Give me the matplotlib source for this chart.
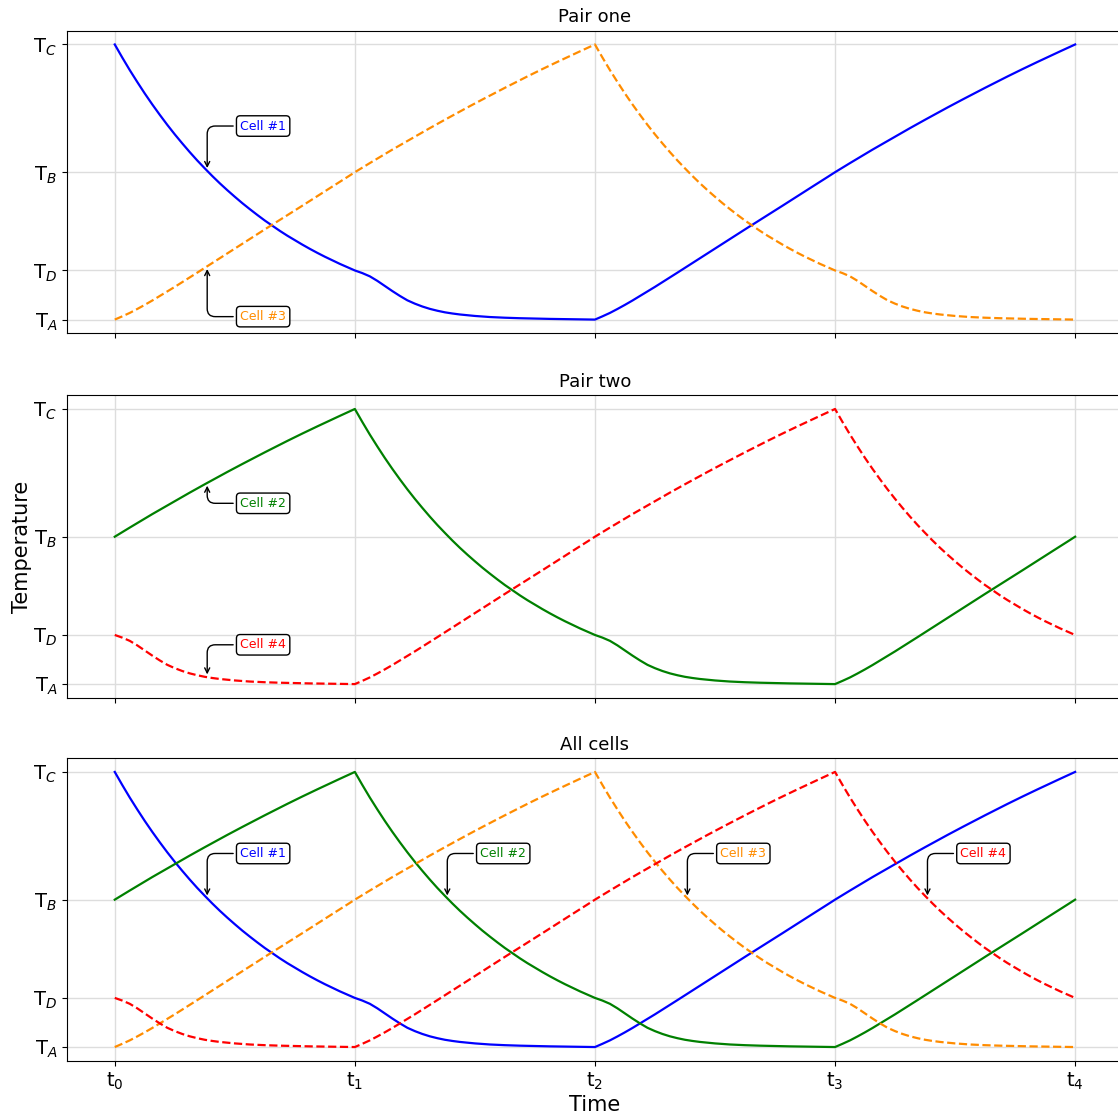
import numpy as np
import matplotlib.pyplot as plt

# reference temperatures
T_A, T_D, T_B, T_C = 20.0, 25.0, 35.0, 48.0
temp_ticks = [T_A, T_D, T_B, T_C]
temp_labels = ["T$_A$", "T$_D$", "T$_B$", "T$_C$"]
time_labels = ["t$_0$", "t$_1$", "t$_2$", "t$_3$", "t$_4$"]

# each stage of the cycle, sampled every 1/32 of a period
cool_c_to_d = [48.00, 46.67, 45.39, 44.18, 43.01, 41.90, 40.84, 39.82,
               38.85, 37.93, 37.04, 36.19, 35.39, 34.61, 33.87, 33.17,
               32.50, 31.85, 31.24, 30.65, 30.08, 29.55, 29.03, 28.54,
               28.08, 27.63, 27.20, 26.79, 26.40, 26.03, 25.67, 25.33, 25.00]
settle_d_to_a = [25.00, 24.73, 24.40, 23.94, 23.42, 22.90, 22.41, 21.96,
                 21.62, 21.33, 21.09, 20.90, 20.74, 20.62, 20.52, 20.44,
                 20.37, 20.31, 20.26, 20.22, 20.19, 20.16, 20.14, 20.12,
                 20.10, 20.09, 20.07, 20.06, 20.05, 20.04, 20.02, 20.01, 20.00]
heat_a_to_b = [20.00, 20.33, 20.68, 21.08, 21.50, 21.94, 22.40, 22.86,
               23.33, 23.81, 24.30, 24.78, 25.27, 25.76, 26.25, 26.73,
               27.22, 27.71, 28.20, 28.69, 29.18, 29.66, 30.15, 30.63,
               31.11, 31.59, 32.08, 32.56, 33.05, 33.54, 34.02, 34.51, 35.00]
heat_b_to_c = [35.00, 35.47, 35.93, 36.39, 36.84, 37.30, 37.74, 38.19,
               38.63, 39.06, 39.49, 39.92, 40.34, 40.76, 41.18, 41.59,
               42.00, 42.40, 42.80, 43.20, 43.59, 43.98, 44.37, 44.75,
               45.13, 45.50, 45.87, 46.23, 46.59, 46.95, 47.30, 47.65, 48.00]

stages = [cool_c_to_d, settle_d_to_a, heat_a_to_b, heat_b_to_c]

cells = ["Cell #1", "Cell #2", "Cell #3", "Cell #4"]
cell_first_stage = [0, 3, 2, 1]
cell_colors = ["blue", "green", "darkorange", "red"]
cell_styles = ["-", "-", "--", "--"]

SAMPLES = len(cool_c_to_d) - 1
time = np.linspace(0, 4, 4 * SAMPLES + 1)


def cell_profile(first):
    temps = [stages[first][0]]
    for k in range(4):
        temps += stages[(first + k) % 4][1:]
    return np.array(temps)


profiles = [cell_profile(s) for s in cell_first_stage]

fig = plt.figure(figsize=(11.18, 11.13), dpi=100)
left, width, height = 0.0597, 0.9449, 0.2719
bottoms = [0.7005, 0.3730, 0.0469]
axes = [fig.add_axes([left, b, width, height]) for b in bottoms]

panels = [
    ("Pair one", [0, 2]),
    ("Pair two", [1, 3]),
    ("All cells", [0, 1, 2, 3]),
]

# (cell index, tip time, label height) for each panel
notes = [
    [(0, 0.385, 39.7), (2, 0.385, 20.3)],
    [(1, 0.385, 38.4), (3, 0.385, 24.0)],
    [(0, 0.385, 39.7), (1, 1.385, 39.7), (2, 2.385, 39.7), (3, 3.385, 39.7)],
]

for ax, (title, idx), panel_notes in zip(axes, panels, notes):
    for i in idx:
        ax.plot(time, profiles[i], color=cell_colors[i], ls=cell_styles[i], lw=1.6)
    for i, t_tip, y_text in panel_notes:
        ax.annotate(
            cells[i],
            xy=(t_tip, np.interp(t_tip, time, profiles[i])),
            xytext=(t_tip + 0.233, y_text),
            color=cell_colors[i],
            fontsize=9,
            ha="center",
            va="center",
            bbox=dict(boxstyle="round,pad=0.3", fc="white", ec="black"),
            arrowprops=dict(arrowstyle="->", color="black", lw=1,
                            connectionstyle="angle,angleA=0,angleB=90,rad=8"),
        )
    ax.set_title(title, fontsize=13)
    ax.set_yticks(temp_ticks)
    ax.set_yticklabels(temp_labels)
    ax.set_xticks(range(5))
    ax.set_xticklabels(time_labels)
    ax.tick_params(labelsize=14)
    ax.grid(True, color="#dddddd", lw=1)
    ax.set_axisbelow(True)

for ax in axes[:-1]:
    ax.tick_params(labelbottom=False)

axes[1].set_ylabel("Temperature", fontsize=15)
axes[1].yaxis.set_label_coords(-0.0326, 0.5)
axes[2].set_xlabel("Time", fontsize=15, labelpad=2)

fig.savefig("out.png", dpi=100)
